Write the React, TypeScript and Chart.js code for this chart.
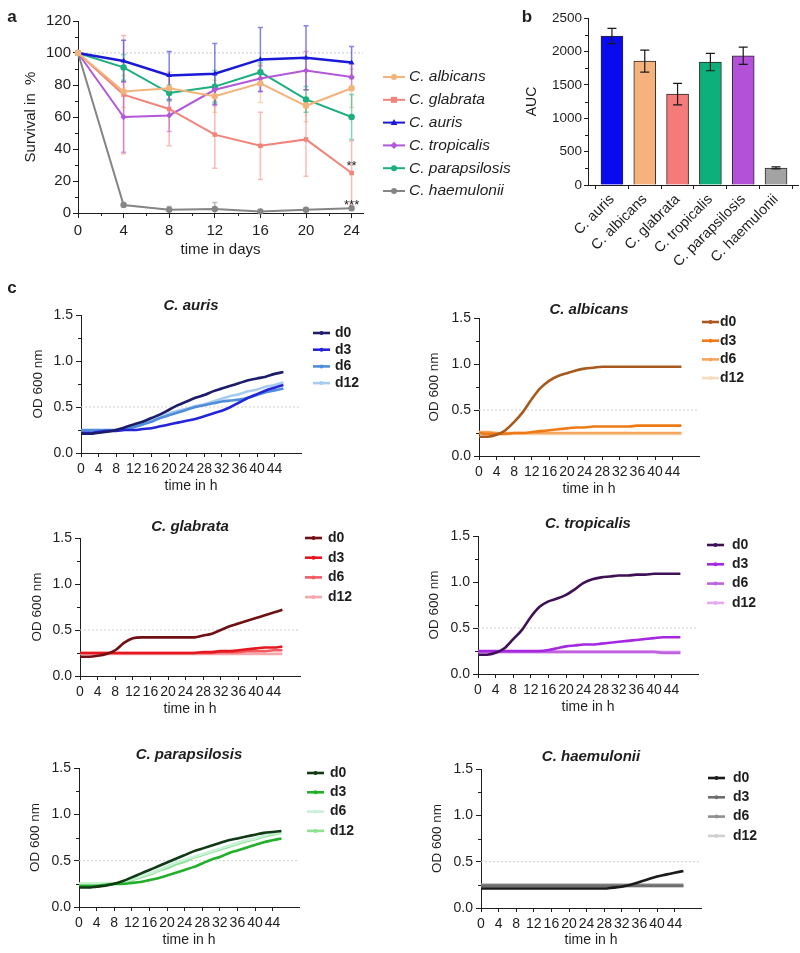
import React, { useEffect, useRef } from "react";
import { Chart, registerables } from "chart.js";

Chart.register(...registerables);

const FONT = "'Liberation Sans', Arial, Helvetica, sans-serif";
const INK = "#1e1e1e";
Chart.defaults.font.family = FONT;
Chart.defaults.color = INK;

// ---------------- Panel a: survival ----------------
const surviveDays = [0, 4, 8, 12, 16, 20, 24];
const survivalSpecies = ["C. albicans", "C. glabrata", "C. auris", "C. tropicalis", "C. parapsilosis", "C. haemulonii"];
const albicansSurv = [100, 76, 78, 73, 81, 67, 78];
const glabrataSurv = [100, 74, 65, 49, 42, 46, 25];
const aurisSurv = [100, 95, 86, 87, 96, 97, 94];
const tropicalisSurv = [100, 60, 61, 77, 84, 89, 85];
const parapsilosisSurv = [100, 91, 75, 79, 88, 71, 60];
const haemuloniiSurv = [100, 5, 2, 2.5, 1, 2, 3];
const albicansErr = [0, 10, 8, 10, 12, 10, 12];
const glabrataErr = [0, 37, 23, 21, 21, 23, 20];
const aurisErr = [0, 13, 15, 19, 20, 20, 10];
const tropicalisErr = [0, 22, 10, 10, 8, 12, 8];
const parapsilosisErr = [0, 8, 5, 10, 6, 8, 14];
const haemuloniiErr = [0, 1, 2, 4, 1, 1, 1];
const survivalTicksX = [0, 4, 8, 12, 16, 20, 24];
const survivalTicksY = [0, 20, 40, 60, 80, 100, 120];

// ---------------- Panel b: AUC ----------------
const aucSpecies = ["C. auris", "C. albicans", "C. glabrata", "C. tropicalis", "C. parapsilosis", "C. haemulonii"];
const aucValues = [2230, 1855, 1360, 1840, 1935, 255];
const aucErrors = [115, 165, 160, 130, 130, 15];
const aucTicks = [0, 500, 1000, 1500, 2000, 2500];

// ---------------- Panel c: growth curves ----------------
const hours = [0, 2, 4, 6, 8, 10, 12, 14, 16, 18, 20, 22, 24, 26, 28, 30, 32, 34, 36, 38, 40, 42, 44, 46];
const growthTicksX = [0, 4, 8, 12, 16, 20, 24, 28, 32, 36, 40, 44];
const growthTicksY = [0, 0.5, 1.0, 1.5];
const dayLabels = ["d0", "d3", "d6", "d12"];

const aurisD0 = [0.21, 0.21, 0.22, 0.23, 0.25, 0.28, 0.31, 0.34, 0.38, 0.42, 0.47, 0.52, 0.56, 0.6, 0.63, 0.67, 0.7, 0.73, 0.76, 0.79, 0.81, 0.83, 0.86, 0.88];
const aurisD3 = [0.22, 0.22, 0.23, 0.24, 0.24, 0.25, 0.25, 0.26, 0.27, 0.29, 0.31, 0.33, 0.35, 0.37, 0.4, 0.43, 0.46, 0.5, 0.55, 0.6, 0.64, 0.68, 0.71, 0.74];
const aurisD6 = [0.25, 0.25, 0.25, 0.25, 0.25, 0.26, 0.28, 0.31, 0.34, 0.38, 0.41, 0.44, 0.47, 0.5, 0.52, 0.54, 0.56, 0.57, 0.58, 0.6, 0.63, 0.66, 0.68, 0.7];
const aurisD12 = [0.24, 0.24, 0.24, 0.24, 0.25, 0.27, 0.29, 0.32, 0.36, 0.4, 0.43, 0.46, 0.48, 0.51, 0.53, 0.56, 0.59, 0.62, 0.64, 0.67, 0.69, 0.72, 0.74, 0.77];

const albicansD0 = [0.21, 0.21, 0.23, 0.28, 0.37, 0.48, 0.62, 0.74, 0.82, 0.87, 0.9, 0.93, 0.95, 0.96, 0.97, 0.97, 0.97, 0.97, 0.97, 0.97, 0.97, 0.97, 0.97, 0.97];
const albicansD3 = [0.25, 0.24, 0.24, 0.24, 0.25, 0.25, 0.26, 0.27, 0.28, 0.29, 0.3, 0.31, 0.31, 0.32, 0.32, 0.32, 0.32, 0.32, 0.33, 0.33, 0.33, 0.33, 0.33, 0.33];
const albicansD6 = [0.26, 0.26, 0.25, 0.25, 0.25, 0.25, 0.25, 0.25, 0.25, 0.25, 0.25, 0.25, 0.25, 0.25, 0.25, 0.25, 0.25, 0.25, 0.25, 0.25, 0.25, 0.25, 0.25, 0.25];
const albicansD12 = [0.25, 0.25, 0.24, 0.24, 0.24, 0.24, 0.24, 0.24, 0.24, 0.24, 0.24, 0.24, 0.24, 0.24, 0.24, 0.24, 0.24, 0.24, 0.24, 0.24, 0.24, 0.24, 0.24, 0.24];

const glabrataD0 = [0.21, 0.21, 0.22, 0.24, 0.28, 0.36, 0.41, 0.42, 0.42, 0.42, 0.42, 0.42, 0.42, 0.42, 0.44, 0.46, 0.5, 0.54, 0.57, 0.6, 0.63, 0.66, 0.69, 0.72];
const glabrataD3 = [0.25, 0.25, 0.25, 0.25, 0.25, 0.25, 0.25, 0.25, 0.25, 0.25, 0.25, 0.25, 0.25, 0.25, 0.26, 0.26, 0.27, 0.27, 0.28, 0.29, 0.3, 0.31, 0.31, 0.32];
const glabrataD6 = [0.25, 0.25, 0.25, 0.25, 0.25, 0.25, 0.25, 0.25, 0.25, 0.25, 0.25, 0.25, 0.25, 0.25, 0.25, 0.25, 0.26, 0.26, 0.26, 0.27, 0.27, 0.27, 0.28, 0.28];
const glabrataD12 = [0.24, 0.24, 0.24, 0.24, 0.24, 0.24, 0.24, 0.24, 0.24, 0.24, 0.24, 0.24, 0.24, 0.24, 0.24, 0.24, 0.24, 0.24, 0.24, 0.24, 0.24, 0.24, 0.24, 0.24];

const tropicalisD0 = [0.21, 0.21, 0.23, 0.28, 0.38, 0.48, 0.62, 0.73, 0.79, 0.82, 0.86, 0.92, 0.99, 1.03, 1.05, 1.06, 1.07, 1.07, 1.08, 1.08, 1.09, 1.09, 1.09, 1.09];
const tropicalisD3 = [0.25, 0.25, 0.25, 0.25, 0.25, 0.25, 0.25, 0.25, 0.26, 0.28, 0.3, 0.31, 0.32, 0.32, 0.33, 0.34, 0.35, 0.36, 0.37, 0.38, 0.39, 0.4, 0.4, 0.4];
const tropicalisD6 = [0.24, 0.24, 0.24, 0.24, 0.24, 0.24, 0.24, 0.24, 0.24, 0.24, 0.24, 0.24, 0.24, 0.24, 0.24, 0.24, 0.24, 0.24, 0.24, 0.24, 0.24, 0.23, 0.23, 0.23];
const tropicalisD12 = [0.24, 0.24, 0.24, 0.24, 0.24, 0.24, 0.24, 0.24, 0.24, 0.24, 0.24, 0.24, 0.24, 0.24, 0.24, 0.24, 0.24, 0.24, 0.24, 0.24, 0.24, 0.24, 0.24, 0.24];

const parapsilosisD0 = [0.21, 0.21, 0.22, 0.23, 0.25, 0.28, 0.32, 0.36, 0.4, 0.44, 0.48, 0.52, 0.56, 0.6, 0.63, 0.66, 0.69, 0.72, 0.74, 0.76, 0.78, 0.8, 0.81, 0.82];
const parapsilosisD3 = [0.23, 0.23, 0.23, 0.24, 0.25, 0.25, 0.26, 0.27, 0.29, 0.31, 0.34, 0.37, 0.4, 0.43, 0.47, 0.51, 0.54, 0.58, 0.61, 0.64, 0.67, 0.7, 0.72, 0.74];
const parapsilosisD6 = [0.25, 0.25, 0.25, 0.25, 0.25, 0.27, 0.3, 0.33, 0.36, 0.4, 0.44, 0.48, 0.51, 0.54, 0.57, 0.6, 0.63, 0.66, 0.69, 0.72, 0.74, 0.77, 0.79, 0.8];
const parapsilosisD12 = [0.25, 0.25, 0.25, 0.25, 0.25, 0.27, 0.29, 0.32, 0.35, 0.39, 0.42, 0.46, 0.49, 0.53, 0.56, 0.59, 0.62, 0.65, 0.68, 0.71, 0.73, 0.76, 0.78, 0.8];

const haemuloniiD0 = [0.21, 0.21, 0.21, 0.21, 0.21, 0.21, 0.21, 0.21, 0.21, 0.21, 0.21, 0.21, 0.21, 0.21, 0.21, 0.22, 0.23, 0.25, 0.28, 0.31, 0.34, 0.36, 0.38, 0.4];
const haemuloniiD3 = [0.24, 0.24, 0.24, 0.24, 0.24, 0.24, 0.24, 0.24, 0.24, 0.24, 0.24, 0.24, 0.24, 0.24, 0.24, 0.24, 0.24, 0.24, 0.24, 0.24, 0.24, 0.24, 0.24, 0.24];
const haemuloniiD6 = [0.25, 0.25, 0.25, 0.25, 0.25, 0.25, 0.25, 0.25, 0.25, 0.25, 0.25, 0.25, 0.25, 0.25, 0.25, 0.25, 0.25, 0.25, 0.25, 0.25, 0.25, 0.25, 0.25, 0.25];
const haemuloniiD12 = [0.23, 0.23, 0.23, 0.23, 0.23, 0.23, 0.23, 0.23, 0.23, 0.23, 0.23, 0.23, 0.23, 0.23, 0.23, 0.23, 0.23, 0.23, 0.23, 0.23, 0.23, 0.23, 0.23, 0.23];

// ---------------- styles ----------------
const SURV_COLORS = ["#F2B47C", "#F2837A", "#1A1AD6", "#B258D8", "#1EAE80", "#858585"];
const SURV_MARKERS = ["circle", "rect", "triangle", "rectRot", "circle", "circle"];
const AUC_COLORS = ["#0A0AEE", "#F5B27C", "#F47B7A", "#0DB07A", "#B352D9", "#A3A3A3"];

const GROWTH = [
  { title: "C. auris", series: [aurisD0, aurisD3, aurisD6, aurisD12], colors: ["#1C1C6A", "#2424D8", "#4E8ED8", "#A8CBF2"],
    box: { left: 0, top: 275, width: 400, height: 228 }, pad: { left: 26, top: 40, right: 99, bottom: 4 }, yW: 55, xH: 46,
    titleDy: -9, leg: { dx: 12, tx: 34, dy: 18, sp: 16.7 }, letter: "c" },
  { title: "C. albicans", series: [albicansD0, albicansD3, albicansD6, albicansD12], colors: ["#A85A1E", "#EE7A16", "#F5A55C", "#F8DCBE"],
    box: { left: 400, top: 275, width: 400, height: 231 }, pad: { left: 22, top: 43, right: 101, bottom: 4 }, yW: 57, xH: 46,
    titleDy: -8, leg: { dx: 3, tx: 21, dy: 4, sp: 18.7 } },
  { title: "C. glabrata", series: [glabrataD0, glabrataD3, glabrataD6, glabrataD12], colors: ["#6E1014", "#E5161D", "#F05C61", "#F5A8AB"],
    box: { left: 0, top: 505, width: 400, height: 221 }, pad: { left: 25, top: 33, right: 100, bottom: 4 }, yW: 55, xH: 46,
    titleDy: -11, leg: { dx: 5, tx: 28, dy: 0, sp: 19.7 } },
  { title: "C. tropicalis", series: [tropicalisD0, tropicalisD3, tropicalisD6, tropicalisD12], colors: ["#3E1056", "#A527E0", "#C062E0", "#E6A9F3"],
    box: { left: 400, top: 505, width: 400, height: 219 }, pad: { left: 22, top: 31, right: 102, bottom: 4 }, yW: 56, xH: 46,
    titleDy: -12, leg: { dx: 9, tx: 34, dy: 9, sp: 19.3 } },
  { title: "C. parapsilosis", series: [parapsilosisD0, parapsilosisD3, parapsilosisD6, parapsilosisD12], colors: ["#0F3A13", "#22B02B", "#C9F0D8", "#8BE38F"],
    box: { left: 0, top: 735, width: 400, height: 218 }, pad: { left: 23, top: 33, right: 101, bottom: 0 }, yW: 56, xH: 46,
    titleDy: -13, leg: { dx: 8, tx: 31, dy: 5, sp: 19.3 } },
  { title: "C. haemulonii", series: [haemuloniiD0, haemuloniiD3, haemuloniiD6, haemuloniiD12], colors: ["#1A1A1A", "#6E6E6E", "#909090", "#D0D0D0"],
    box: { left: 400, top: 735, width: 400, height: 218 }, pad: { left: 25, top: 34, right: 99, bottom: 0 }, yW: 56, xH: 45,
    titleDy: -12, leg: { dx: 7, tx: 32, dy: 9, sp: 19.3 } },
];

// ---------------- helpers ----------------
function drawMarker(ctx: CanvasRenderingContext2D, style: string, x: number, y: number, r: number, color: string) {
  ctx.save();
  ctx.fillStyle = color;
  ctx.beginPath();
  if (style === "rect") {
    ctx.rect(x - r, y - r, 2 * r, 2 * r);
  } else if (style === "triangle") {
    ctx.moveTo(x, y - r * 1.2);
    ctx.lineTo(x + r * 1.1, y + r * 0.8);
    ctx.lineTo(x - r * 1.1, y + r * 0.8);
    ctx.closePath();
  } else if (style === "rectRot") {
    ctx.moveTo(x, y - r * 1.2);
    ctx.lineTo(x + r * 1.2, y);
    ctx.lineTo(x, y + r * 1.2);
    ctx.lineTo(x - r * 1.2, y);
    ctx.closePath();
  } else {
    ctx.arc(x, y, r, 0, Math.PI * 2);
  }
  ctx.fill();
  ctx.restore();
}

type Decor = {
  letter?: { text: string; x: number; y: number };
  title?: { text: string; dy: number; font: string };
  hline?: { value: number; color: string };
  minorX?: number[];
  minorY?: number[];
  minorLen?: number;
  errors?: { layer: "before" | "after"; cap: number; width: number; alpha: number; color?: string };
  legend?: { dx: number; tx: number; dy: number; sp: number; len: number; font: string; lw: number; dot: number;
    items: { label: string; color: string; marker: string }[] };
  notes?: { x: number; y: number; text: string; dy: number; font: string }[];
};

function makeDecor(cfg: Decor) {
  const drawErrors = (chart: any) => {
    const e = cfg.errors!;
    const { ctx, chartArea: ca } = chart;
    const ys = chart.scales.y;
    chart.data.datasets.forEach((ds: any, i: number) => {
      if (!ds.errors) return;
      const meta = chart.getDatasetMeta(i);
      meta.data.forEach((el: any, j: number) => {
        const err = ds.errors[j];
        if (!err) return;
        const raw = ds.data[j];
        const v = typeof raw === "object" ? raw.y : raw;
        const yt = Math.max(ca.top, ys.getPixelForValue(v + err));
        const yb = Math.min(ca.bottom, ys.getPixelForValue(v - err));
        ctx.save();
        ctx.globalAlpha = e.alpha;
        ctx.strokeStyle = e.color || ds.borderColor;
        ctx.lineWidth = e.width;
        ctx.beginPath();
        ctx.moveTo(el.x, yt);
        ctx.lineTo(el.x, yb);
        if (e.cap > 0) {
          if (yt > ca.top) { ctx.moveTo(el.x - e.cap / 2, yt); ctx.lineTo(el.x + e.cap / 2, yt); }
          if (yb < ca.bottom) { ctx.moveTo(el.x - e.cap / 2, yb); ctx.lineTo(el.x + e.cap / 2, yb); }
        }
        ctx.stroke();
        ctx.restore();
      });
    });
  };
  return {
    id: "decor",
    beforeDatasetsDraw(chart: any) {
      const { ctx, chartArea: ca } = chart;
      if (cfg.hline) {
        const y = chart.scales.y.getPixelForValue(cfg.hline.value);
        ctx.save();
        ctx.strokeStyle = cfg.hline.color;
        ctx.lineWidth = 1;
        ctx.setLineDash([2, 2]);
        ctx.beginPath();
        ctx.moveTo(ca.left, y);
        ctx.lineTo(ca.right, y);
        ctx.stroke();
        ctx.restore();
      }
      if (cfg.errors && cfg.errors.layer === "before") drawErrors(chart);
    },
    afterDatasetsDraw(chart: any) {
      if (cfg.errors && cfg.errors.layer === "after") drawErrors(chart);
    },
    afterDraw(chart: any) {
      const { ctx, chartArea: ca } = chart;
      ctx.save();
      ctx.strokeStyle = INK;
      ctx.lineWidth = 1;
      const len = cfg.minorLen || 3;
      (cfg.minorY || []).forEach((v) => {
        const y = Math.round(chart.scales.y.getPixelForValue(v)) + 0.5;
        ctx.beginPath(); ctx.moveTo(ca.left - len, y); ctx.lineTo(ca.left, y); ctx.stroke();
      });
      (cfg.minorX || []).forEach((v) => {
        const x = Math.round(chart.scales.x.getPixelForValue(v)) + 0.5;
        ctx.beginPath(); ctx.moveTo(x, ca.bottom); ctx.lineTo(x, ca.bottom + len); ctx.stroke();
      });
      ctx.restore();

      ctx.save();
      ctx.fillStyle = INK;
      if (cfg.letter) {
        ctx.font = `bold 17px ${FONT}`;
        ctx.textAlign = "center";
        ctx.textBaseline = "middle";
        ctx.fillText(cfg.letter.text, cfg.letter.x, cfg.letter.y);
      }
      if (cfg.title) {
        ctx.font = cfg.title.font;
        ctx.textAlign = "center";
        ctx.textBaseline = "middle";
        ctx.fillText(cfg.title.text, (ca.left + ca.right) / 2, ca.top + cfg.title.dy);
      }
      (cfg.notes || []).forEach((n) => {
        ctx.font = n.font;
        ctx.textAlign = "center";
        ctx.textBaseline = "middle";
        ctx.fillText(n.text, chart.scales.x.getPixelForValue(n.x), chart.scales.y.getPixelForValue(n.y) + n.dy);
      });
      if (cfg.legend) {
        const L = cfg.legend;
        L.items.forEach((it, i) => {
          const y = ca.top + L.dy + i * L.sp;
          const x0 = ca.right + L.dx;
          ctx.save();
          ctx.strokeStyle = it.color;
          ctx.lineWidth = L.lw;
          ctx.beginPath();
          ctx.moveTo(x0, y);
          ctx.lineTo(x0 + L.len, y);
          ctx.stroke();
          ctx.restore();
          drawMarker(ctx, it.marker, x0 + L.len / 2, y, L.dot, it.color);
          ctx.fillStyle = INK;
          ctx.font = L.font;
          ctx.textAlign = "left";
          ctx.textBaseline = "middle";
          ctx.fillText(it.label, ca.right + L.tx, y);
        });
      }
      ctx.restore();
    },
  };
}

const axisGrid = (tickLength: number) => ({
  display: true,
  drawOnChartArea: false,
  drawTicks: true,
  tickLength,
  color: INK,
  lineWidth: 1,
});
const axisBorder = { display: true, color: INK, width: 1 };

// ---------------- chart configs ----------------
function survivalConfig(): any {
  const series = [albicansSurv, glabrataSurv, aurisSurv, tropicalisSurv, parapsilosisSurv, haemuloniiSurv];
  const errs = [albicansErr, glabrataErr, aurisErr, tropicalisErr, parapsilosisErr, haemuloniiErr];
  const datasets = series.map((s, i) => ({
    label: survivalSpecies[i],
    data: s.map((v, j) => ({ x: surviveDays[j], y: v })),
    errors: errs[i],
    borderColor: SURV_COLORS[i],
    backgroundColor: SURV_COLORS[i],
    borderWidth: i === 2 ? 2.5 : 2,
    pointStyle: SURV_MARKERS[i],
    pointRadius: 3.2,
    pointBorderWidth: 0,
    tension: 0,
    clip: false,
  }));
  return {
    type: "line",
    data: { datasets },
    options: {
      animation: false,
      responsive: false,
      devicePixelRatio: 1,
      layout: { padding: { left: 18, top: 21, right: 157, bottom: 2 } },
      plugins: { legend: { display: false }, tooltip: { enabled: false } },
      scales: {
        x: {
          type: "linear", min: 0, max: 25,
          afterBuildTicks: (s: any) => { s.ticks = survivalTicksX.map((v) => ({ value: v })); },
          afterFit: (s: any) => { s.height = 50; },
          grid: axisGrid(5), border: axisBorder,
          ticks: { font: { size: 15 }, color: INK, padding: 4, maxRotation: 0, autoSkip: false, callback: (v: any) => String(v) },
          title: { display: true, text: "time in days", font: { size: 15 }, color: INK, padding: { top: 4, bottom: 4 } },
        },
        y: {
          type: "linear", min: 0, max: 120,
          afterBuildTicks: (s: any) => { s.ticks = survivalTicksY.map((v) => ({ value: v })); },
          afterFit: (s: any) => { s.width = 60; },
          grid: axisGrid(5), border: axisBorder,
          ticks: { font: { size: 15 }, color: INK, padding: 2, callback: (v: any) => String(v) },
          title: { display: true, text: "Survival in  %", font: { size: 15 }, color: INK, padding: { top: 4, bottom: 4 } },
        },
      },
    },
    plugins: [makeDecor({
      letter: { text: "a", x: 12, y: 17 },
      hline: { value: 100, color: "#c8c8c8" },
      minorX: [2, 6, 10, 14, 18, 22],
      minorY: [10, 30, 50, 70, 90, 110],
      minorLen: 3,
      errors: { layer: "before", cap: 5, width: 1.5, alpha: 0.55 },
      legend: {
        dx: 20, tx: 46, dy: 56, sp: 22.8, len: 22, font: `italic 15.5px ${FONT}`, lw: 2, dot: 3,
        items: survivalSpecies.map((s, i) => ({ label: s, color: SURV_COLORS[i], marker: SURV_MARKERS[i] })),
      },
      notes: [
        { x: 24, y: 25, text: "**", dy: -7, font: `13px ${FONT}` },
        { x: 24, y: 3, text: "***", dy: -3, font: `13px ${FONT}` },
      ],
    })],
  };
}

function aucConfig(): any {
  return {
    type: "bar",
    data: {
      datasets: [{
        label: "AUC",
        data: aucValues.map((v, i) => ({ x: i, y: v })),
        errors: aucErrors,
        backgroundColor: AUC_COLORS,
        borderColor: "#2a2a2a",
        borderWidth: 1,
        barThickness: 22,
      }],
    },
    options: {
      animation: false,
      responsive: false,
      devicePixelRatio: 1,
      layout: { padding: { left: 0, top: 18, right: 2, bottom: 0 } },
      plugins: { legend: { display: false }, tooltip: { enabled: false } },
      scales: {
        x: {
          type: "linear", min: -0.73, max: 5.67, offset: false,
          afterBuildTicks: (s: any) => { s.ticks = aucSpecies.map((_, i) => ({ value: i })); },
          afterFit: (s: any) => { s.height = 95; },
          grid: axisGrid(4), border: axisBorder,
          ticks: {
            font: { size: 14.5 }, color: INK, padding: 2, minRotation: 45, maxRotation: 45, autoSkip: false,
            callback: (v: any) => aucSpecies[Math.round(Number(v))] ?? "",
          },
        },
        y: {
          type: "linear", min: 0, max: 2500,
          afterBuildTicks: (s: any) => { s.ticks = aucTicks.map((v) => ({ value: v })); },
          afterFit: (s: any) => { s.width = 68; },
          grid: axisGrid(4), border: axisBorder,
          ticks: { font: { size: 13.5 }, color: INK, padding: 2, callback: (v: any) => String(v) },
          title: { display: true, text: "AUC", font: { size: 14 }, color: INK, padding: { top: 4, bottom: 4 } },
        },
      },
    },
    plugins: [makeDecor({
      letter: { text: "b", x: 7, y: 17 },
      minorY: [250, 750, 1250, 1750, 2250],
      minorLen: 3,
      errors: { layer: "after", cap: 9, width: 1.2, alpha: 1, color: "#1a1a1a" },
    })],
  };
}

function growthConfig(p: any): any {
  const datasets = p.series.map((s: number[], i: number) => ({
    label: dayLabels[i],
    data: s.map((v, j) => ({ x: hours[j], y: v })),
    borderColor: p.colors[i],
    backgroundColor: p.colors[i],
    borderWidth: 2.6,
    pointRadius: 0,
    cubicInterpolationMode: "monotone",
    clip: false,
  }));
  return {
    type: "line",
    data: { datasets },
    options: {
      animation: false,
      responsive: false,
      devicePixelRatio: 1,
      layout: { padding: p.pad },
      plugins: { legend: { display: false }, tooltip: { enabled: false } },
      scales: {
        x: {
          type: "linear", min: 0, max: 50,
          afterBuildTicks: (s: any) => { s.ticks = growthTicksX.map((v) => ({ value: v })); },
          afterFit: (s: any) => { s.height = p.xH; },
          grid: axisGrid(4), border: axisBorder,
          ticks: { font: { size: 14 }, color: INK, padding: 4, maxRotation: 0, autoSkip: false, callback: (v: any) => String(v) },
          title: { display: true, text: "time in h", font: { size: 14 }, color: INK, padding: { top: 4, bottom: 4 } },
        },
        y: {
          type: "linear", min: 0, max: 1.5,
          afterBuildTicks: (s: any) => { s.ticks = growthTicksY.map((v) => ({ value: v })); },
          afterFit: (s: any) => { s.width = p.yW; },
          grid: axisGrid(5), border: axisBorder,
          ticks: { font: { size: 14 }, color: INK, padding: 3, callback: (v: any) => Number(v).toFixed(1) },
          title: { display: true, text: "OD 600 nm", font: { size: 13.5 }, color: INK, padding: { top: 4, bottom: 4 } },
        },
      },
    },
    plugins: [makeDecor({
      letter: p.letter ? { text: p.letter, x: 12, y: 13 } : undefined,
      title: { text: p.title, dy: p.titleDy, font: `italic bold 15px ${FONT}` },
      hline: { value: 0.5, color: "#cfcfcf" },
      minorY: [0.25, 0.75, 1.25],
      minorLen: 3,
      legend: {
        dx: p.leg.dx, tx: p.leg.tx, dy: p.leg.dy, sp: p.leg.sp, len: 17, font: `bold 14px ${FONT}`, lw: 2.6, dot: 2,
        items: dayLabels.map((d, i) => ({ label: d, color: p.colors[i], marker: "circle" })),
      },
    })],
  };
}

function ChartBox({ box, make }: { box: { left: number; top: number; width: number; height: number }; make: () => any }) {
  const ref = useRef<HTMLCanvasElement>(null);
  useEffect(() => {
    if (!ref.current) return;
    const chart = new Chart(ref.current, make());
    return () => chart.destroy();
  }, []);
  return (
    <canvas
      ref={ref}
      width={box.width}
      height={box.height}
      style={{ position: "absolute", left: box.left, top: box.top, width: box.width, height: box.height }}
    />
  );
}

export default function App() {
  return (
    <div style={{ position: "absolute", left: 0, top: 0, width: 800, height: 953, overflow: "hidden", background: "#fff" }}>
      <ChartBox box={{ left: 0, top: 0, width: 520, height: 265 }} make={survivalConfig} />
      <ChartBox box={{ left: 520, top: 0, width: 280, height: 280 }} make={aucConfig} />
      {GROWTH.map((p, i) => (
        <ChartBox key={i} box={p.box} make={() => growthConfig(p)} />
      ))}
    </div>
  );
}
